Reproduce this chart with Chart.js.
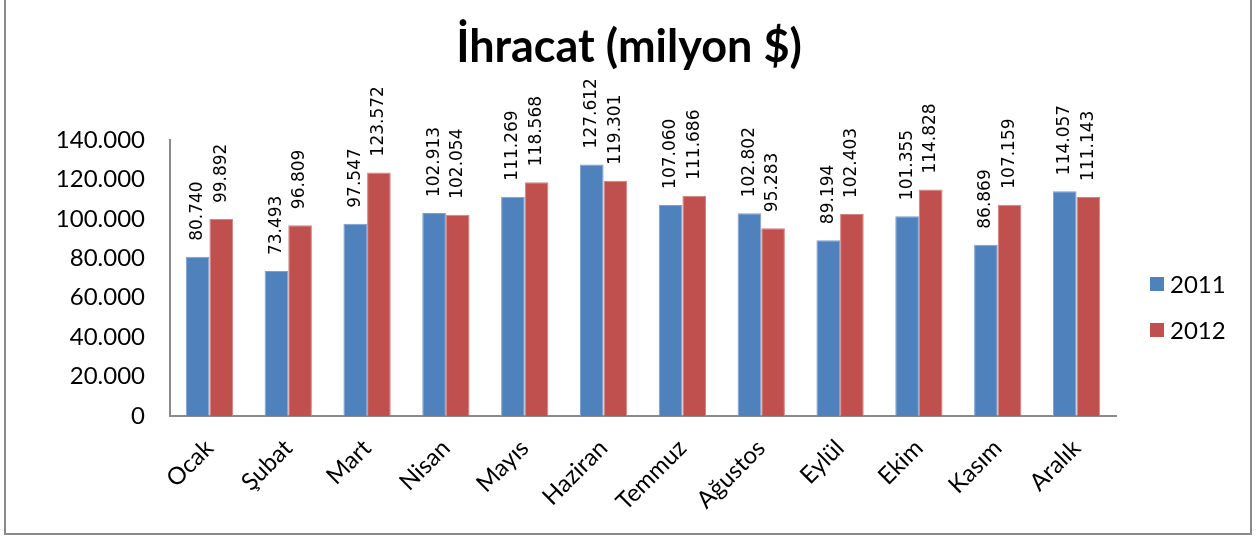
<!DOCTYPE html>
<html>
<head>
<meta charset="utf-8">
<script src="https://cdn.jsdelivr.net/npm/chart.js@4/dist/chart.umd.min.js"></script>
<style>
  html, body { margin: 0; padding: 0; background: #fff; }
  #wrap { position: relative; width: 1258px; height: 538px; }
</style>
</head>
<body>
<div id="wrap"><canvas id="c" width="1258" height="538"></canvas></div>
<script>
const months = ['Ocak', 'Şubat', 'Mart', 'Nisan', 'Mayıs', 'Haziran', 'Temmuz', 'Ağustos', 'Eylül', 'Ekim', 'Kasım', 'Aralık'];
const seriesNames = ['2011', '2012'];
const values2011 = [80740, 73493, 97547, 102913, 111269, 127612, 107060, 102802, 89194, 101355, 86869, 114057];
const values2012 = [99892, 96809, 123572, 102054, 118568, 119301, 111686, 95283, 102403, 114828, 107159, 111143];
const yTicks = [0, 20000, 40000, 60000, 80000, 100000, 120000, 140000];
const chartTitle = 'İhracat (milyon $)';

const colors = ['#4F81BD', '#C0504D'];
const edgeColors = ['#7C9FCF', '#D48280'];

function fmt(v) {
  return String(Math.round(v)).replace(/\B(?=(\d{3})+(?!\d))/g, '.');
}

const frameAndLabels = {
  id: 'frameAndLabels',
  afterDatasetsDraw(chart) {
    const ctx = chart.ctx;
    ctx.save();
    ctx.fillStyle = '#000';
    ctx.font = '17px "DejaVu Sans"';
    ctx.textAlign = 'left';
    ctx.textBaseline = 'middle';
    chart.data.datasets.forEach((ds, di) => {
      const meta = chart.getDatasetMeta(di);
      meta.data.forEach((bar, i) => {
        ctx.save();
        ctx.translate(bar.x, bar.y - 16);
        ctx.rotate(-Math.PI / 2);
        ctx.fillText(fmt(ds.data[i]), 0, 0);
        ctx.restore();
      });
    });
    ctx.restore();
  },
  afterDraw(chart) {
    const ctx = chart.ctx;
    ctx.save();
    // legend
    ctx.font = '24px Lato';
    ctx.textAlign = 'left';
    ctx.textBaseline = 'middle';
    chart.data.datasets.forEach((ds, i) => {
      const cy = 284 + 46 * i;
      ctx.fillStyle = ds.backgroundColor;
      ctx.fillRect(1150, cy - 7, 14, 14);
      ctx.fillStyle = '#000';
      ctx.fillText(ds.label, 1170, cy + 1);
    });
    // outer frame
    ctx.strokeStyle = '#8a8a8a';
    ctx.lineWidth = 2;
    ctx.strokeRect(5, -5, 1246, 539);
    ctx.restore();
  }
};

new Chart(document.getElementById('c'), {
  type: 'bar',
  data: {
    labels: months,
    datasets: [
      { label: seriesNames[0], data: values2011, backgroundColor: colors[0], borderColor: edgeColors[0], borderWidth: 1, yAxisID: 'y' },
      { label: seriesNames[1], data: values2012, backgroundColor: colors[1], borderColor: edgeColors[1], borderWidth: 1, yAxisID: 'y' }
    ]
  },
  options: {
    responsive: false,
    animation: false,
    devicePixelRatio: 1,
    layout: { padding: { left: 0, right: 0, top: 0, bottom: 0 } },
    datasets: { bar: { categoryPercentage: 0.6, barPercentage: 1.0 } },
    plugins: {
      legend: { display: false },
      tooltip: { enabled: false },
      title: {
        display: true,
        text: chartTitle,
        color: '#000',
        font: { family: 'Lato', size: 45, weight: 'bold', lineHeight: 1.2 },
        padding: { top: 20, bottom: 66 }
      }
    },
    scales: {
      x: {
        grid: { display: false },
        border: { display: true, color: '#8a8a8a', width: 2 },
        ticks: {
          color: '#000',
          font: { family: 'Lato', size: 24 },
          minRotation: 45,
          maxRotation: 45,
          padding: 10
        },
        afterFit(scale) { scale.height = 122; }
      },
      y: {
        min: 0,
        max: 140000,
        grid: { display: false, drawTicks: false },
        border: { display: true, color: '#8a8a8a', width: 2 },
        afterBuildTicks(scale) { scale.ticks = yTicks.map(v => ({ value: v })); },
        ticks: {
          color: '#000',
          font: { family: 'Lato', size: 24 },
          padding: 25,
          callback: (v) => fmt(v)
        },
        afterFit(scale) { scale.width = 170; }
      },
      legendSpace: {
        type: 'linear',
        position: 'right',
        min: 0,
        max: 1,
        grid: { display: false, drawTicks: false },
        border: { display: false },
        ticks: { display: false },
        afterFit(scale) { scale.width = 142; }
      }
    }
  },
  plugins: [frameAndLabels]
});
</script>
</body>
</html>
